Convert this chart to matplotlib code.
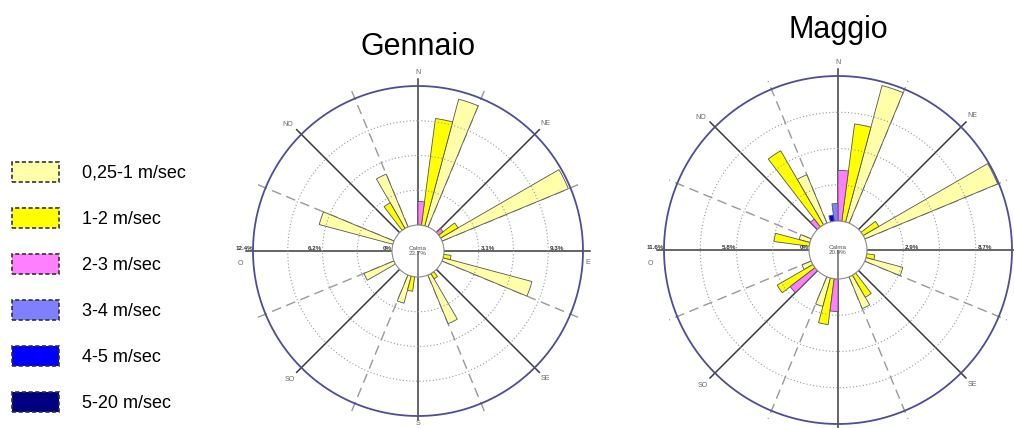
import numpy as np
import matplotlib.pyplot as plt
from matplotlib.patches import Patch

plt.rcParams['font.family'] = ['Liberation Sans', 'DejaVu Sans']

# settori e classi di velocita
settori = ['N', 'NE', 'E', 'SE', 'S', 'SO', 'O', 'NO']
classi = ['0,25-1 m/sec', '1-2 m/sec', '2-3 m/sec', '3-4 m/sec', '4-5 m/sec', '5-20 m/sec']
colori = ['#FFFFAA', '#FFFF00', '#FF80FF', '#8080FF', '#0000FF', '#000080']

# Gennaio: frequenze (%) per settore, una lista per classe
gen_c0 = [11.7, 12.2, 8.2, 4.7, 2.5, 2.9, 6.8, 5.1]
gen_c1 = [9.6, 1.8, 0.65, 0.55, 1.3, 0, 0, 2.65]
gen_c2 = [2.1, 0.5, 0, 0, 0, 0, 0, 0]
gen_c3 = [0, 0, 0, 0, 0, 0, 0, 0]
gen_c4 = [0, 0, 0, 0, 0, 0, 0, 0]
gen_c5 = [0, 0, 0, 0, 0, 0, 0, 0]
gen_calma = 23.7
gen_max = 12.4

# Maggio
mag_c0 = [11.3, 11.5, 3.05, 2.75, 2.35, 0.8, 0.9, 4.2]
mag_c1 = [7.85, 1.45, 0.65, 2.05, 3.7, 3.3, 2.85, 6.85]
mag_c2 = [4.05, 0, 0, 0, 2.6, 2.5, 0, 0.8]
mag_c3 = [1.4, 0, 0, 0, 0, 0, 0, 0]
mag_c4 = [0.5, 0, 0, 0, 0, 0, 0, 0]
mag_c5 = [0, 0, 0, 0, 0, 0, 0, 0]
mag_calma = 20.9
mag_max = 11.6

W, H = 1014, 428
fig = plt.figure(figsize=(W / 100, H / 100), dpi=100)

EXT = 1.12

# posizione (gradi, raggio) delle etichette di direzione
pos_dir = {'N': (0, 1.08), 'NE': (45, 1.09), 'E': (94, 1.03), 'SE': (135, 1.09),
           'S': (180, 1.045), 'SO': (225, 1.1), 'O': (266, 1.08), 'NO': (314, 1.1)}


def rosa(cx, cy, R, rc, valori, vmax, calma, titolo, ty, etichette):
    s = EXT * R
    ax = fig.add_axes([(cx - s) / W, (H - cy - s) / H, 2 * s / W, 2 * s / H],
                      projection='polar')
    ax.set_theta_zero_location('N')
    ax.set_theta_direction(-1)
    ax.set_ylim(0, EXT)
    ax.axis('off')

    rc = rc / R
    scala = (1 - rc) / vmax
    t = np.linspace(0, 2 * np.pi, 400)

    # anelli punteggiati
    for k in (1, 2, 3):
        ax.plot(t, np.full_like(t, rc + k * vmax / 4 * scala), color='#9a9a9a',
                lw=0.8, ls=(0, (1, 2)), zorder=4)
    # cerchio esterno
    ax.plot(t, np.ones_like(t), color='#4d4d99', lw=1.3, zorder=4)

    # linee tratteggiate intermedie
    for i in range(8):
        a = np.radians(22.5 + 45 * i)
        ax.plot([a, a], [rc, 1.05], color='#999999', lw=1.0, ls=(0, (7, 4)), zorder=1)
    # linee principali
    for i in range(8):
        a = np.radians(45 * i)
        fine = 1.025 if i == 4 else 1.04
        ax.plot([a, a], [rc, fine], color='#3a3a3a', lw=1.1, zorder=1)

    # barre: ogni classe spostata di 7.5 gradi all'interno del settore
    for k, serie in enumerate(valori):
        for i, v in enumerate(serie):
            if v <= 0:
                continue
            a = np.radians(45 * i + 18.75 - 7.5 * k)
            ax.bar(a, v * scala, width=np.radians(7.5), bottom=rc,
                   color=colori[k], edgecolor='#555555', lw=0.6, zorder=2)

    # calma
    ax.bar(0, rc, width=2 * np.pi, bottom=0, color='white', edgecolor='#8a8a8a',
           lw=0.8, zorder=5)
    ax.text(0, 0, 'Calma\n%.1f%%' % calma, ha='center', va='center', fontsize=4.5,
            color='#555555', linespacing=1.1, zorder=6)

    # etichette percentuali sull'asse O-E
    for v in (vmax, vmax / 2, 0):
        lab = '0%' if v == 0 else '%.1f%%' % v
        ax.text(np.radians(270), rc + v * scala, lab, ha='right', va='bottom',
                fontsize=4.5, fontweight='bold', color='#333333', zorder=6)
    for v in (vmax / 4, 3 * vmax / 4):
        ax.text(np.radians(90), rc + v * scala + 0.01, '%.1f%%' % v, ha='left',
                va='bottom', fontsize=4.5, fontweight='bold', color='#333333', zorder=6)

    # etichette direzioni
    for d in etichette:
        a, r = pos_dir[d]
        ax.text(np.radians(a), r, d, ha='center', va='center', fontsize=5,
                color='#666666', zorder=6)

    fig.text(cx / W, 1 - ty / H, titolo, ha='center', va='baseline', fontsize=22)
    return ax


rosa(418, 251, 165, 26, [gen_c0, gen_c1, gen_c2, gen_c3, gen_c4, gen_c5],
     gen_max, gen_calma, 'Gennaio', 55, settori)
rosa(838, 250, 174, 29, [mag_c0, mag_c1, mag_c2, mag_c3, mag_c4, mag_c5],
     mag_max, mag_calma, 'Maggio', 38, ['N', 'NE', 'SE', 'SO', 'O', 'NO'])

# legenda
maniglie = [Patch(facecolor=c, edgecolor='#333333', linestyle=(0, (2.5, 1.5)), lw=1.2,
                  label=l) for c, l in zip(colori, classi)]
fig.legend(handles=maniglie, loc='upper left', bbox_to_anchor=(12 / W, 1 - 162 / H),
           frameon=False, fontsize=13, handlelength=2.6, handleheight=1.3,
           handletextpad=1.3, labelspacing=1.45, borderpad=0, borderaxespad=0)

fig.savefig('out.png', dpi=100)
